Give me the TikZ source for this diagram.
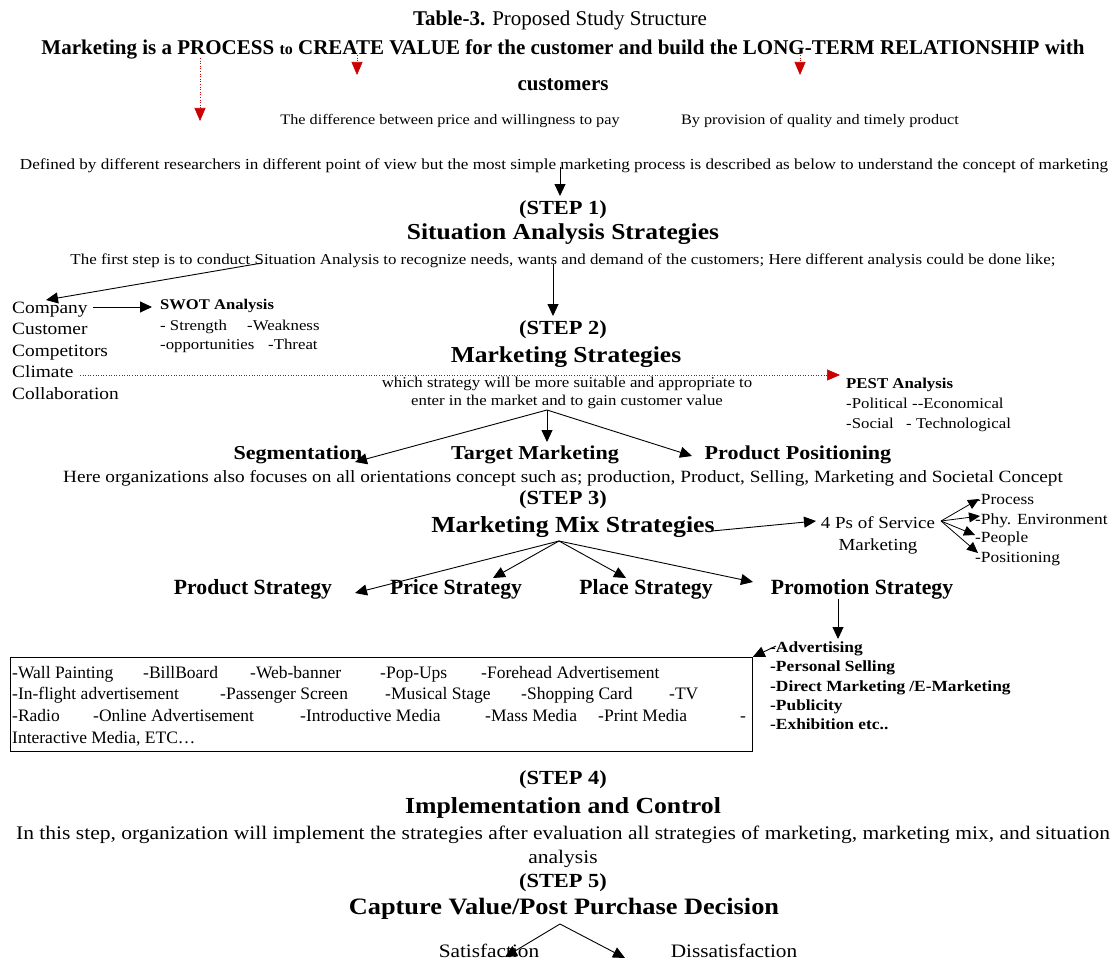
\documentclass[tikz,border=0pt]{standalone}
\usepackage{fontspec}
\setmainfont{Liberation Serif}
\newfontfamily\gar[FakeStretch=1.12]{Liberation Serif}
\usetikzlibrary{arrows.meta}
\begin{document}
\begin{tikzpicture}[x=1pt,y=-1pt,
  every node/.style={inner sep=0pt, text height=0.84em, text depth=0.10em},
  t/.style={font=\fontsize{#1}{#1}\selectfont, yshift=-3.5pt},
  tb/.style={font=\bfseries\fontsize{#1}{#1}\selectfont, yshift=-3.5pt},
  g/.style={font=\gar\fontsize{#1}{#1}\selectfont, yshift=-3.5pt},
  gb/.style={font=\gar\bfseries\fontsize{#1}{#1}\selectfont, yshift=-3.5pt},
  arr/.style={draw=black, line width=0.9pt, -{Triangle[width=11pt,length=12pt]}},
  sarr/.style={draw=black, line width=0.8pt, -{Triangle[width=10pt,length=11pt]}},
  rarr/.style={draw=red!80!black, dotted, line width=0.6pt, -{Triangle[width=11pt,length=13pt,fill=red!80!black]}},
  boxtxt/.style={t=17.5, anchor=west}
]
\useasboundingbox (0,0) rectangle (1115,960);
% header
\node[t=21] (title) at (560,18) {\textbf{Table-3.} Proposed Study Structure};
\node[tb=21] (mk) at (563,47) {Marketing is a PROCESS {\fontsize{16}{16}\selectfont to} CREATE VALUE for the customer and build the LONG-TERM RELATIONSHIP with};
\node[tb=21] (cust) at (563,83) {customers};
\coordinate (r1s) at (200,58); \coordinate (r1e) at (200,121);
\coordinate (r2s) at (357,55); \coordinate (r2e) at (357,75);
\coordinate (r3s) at (800,55); \coordinate (r3e) at (800,75);
\draw[rarr] (r1s) -- (r1e);
\draw[rarr] (r2s) -- (r2e);
\draw[rarr] (r3s) -- (r3e);
\node[g=14.5] (diff) at (450,117) {The difference between price and willingness to pay};
\node[g=14.5] (prov) at (820,117) {By provision of quality and timely product};
\node[g=15.3] (def) at (564,162) {Defined by different researchers in different point of view but the most simple marketing process is described as below to understand the concept of marketing};
% step 1
\node[gb=20] (s1) at (563,207) {(STEP 1)};
\node[gb=22.8] (sas) at (563,232) {Situation Analysis Strategies};
\node[g=15.1] (first) at (563,257) {The first step is to conduct Situation Analysis to recognize needs, wants and demand of the customers; Here different analysis could be done like;};
\coordinate (d1) at (560,167); \coordinate (d1e) at (560,196);
\draw[arr] (d1) -- (d1e);
% left list
\node[g=17.3, anchor=west] (comp) at (12,306) {Company};
\node[g=17.3, anchor=west] (custl) at (12,327) {Customer};
\node[g=17.3, anchor=west] (compt) at (12,349) {Competitors};
\node[g=17.3, anchor=west] (clim) at (12,370) {Climate};
\node[g=17.3, anchor=west] (coll) at (12,392) {Collaboration};
\coordinate (fa) at (262,263);
\coordinate (ct) at (46,300);
\draw[arr] (fa) -- (ct);
\node[gb=14.8, anchor=west] (swot) at (160,302) {SWOT Analysis};
\node[g=15, anchor=west] (sw1a) at (160,323) {- Strength};
\node[g=15, anchor=west] (sw1b) at (247,323) {-Weakness};
\node[g=15, anchor=west] (sw2a) at (160,342) {-opportunities};
\node[g=15, anchor=west] (sw2b) at (268,342) {-Threat};
\coordinate (cs) at (93,307); \coordinate (ce) at (152,307);
\draw[arr] (cs) -- (ce);
% step 2
\node[gb=20] (s2) at (563,327) {(STEP 2)};
\node[gb=22.8] (ms) at (566,355) {Marketing Strategies};
\coordinate (d2) at (553,264); \coordinate (d2e) at (553,316);
\draw[arr] (d2) -- (d2e);
\node[g=15] (which) at (567,380) {which strategy will be more suitable and appropriate to};
\node[g=15] (enter) at (567,398) {enter in the market and to gain customer value};
\coordinate (cl) at (80,375); \coordinate (pe) at (840,375);
\draw[rarr] (cl) -- (pe);
\node[gb=15, anchor=west] (pest) at (846,381) {PEST Analysis};
\node[g=15, anchor=west] (pest1a) at (846,401) {-Political};
\node[g=15, anchor=west] (pest1b) at (912,401) {--Economical};
\node[g=15, anchor=west] (pest2a) at (846,421) {-Social};
\node[g=15, anchor=west] (pest2b) at (906,421) {- Technological};
\node[gb=19.7] (seg) at (298,452) {Segmentation};
\node[gb=19.7] (tm) at (535,452) {Target Marketing};
\node[gb=19.7] (pp) at (798,452) {Product Positioning};
\coordinate (sp) at (547,410);
\coordinate (segt) at (355,462);
\coordinate (tmt) at (547,442);
\coordinate (ppt) at (692,456);
\draw[arr] (sp) -- (segt);
\draw[arr] (sp) -- (tmt);
\draw[arr] (sp) -- (ppt);
\node[g=17.2] (here) at (563,475) {Here organizations also focuses on all orientations concept such as; production, Product, Selling, Marketing and Societal Concept};
% step 3
\node[gb=20] (s3) at (563,497) {(STEP 3)};
\node[gb=23] (mms) at (573,525) {Marketing Mix Strategies};
\node[g=16.9] (fp1) at (878,521) {4 Ps of Service};
\node[g=16.9] (fp2) at (878,543) {Marketing};
\coordinate (ms1) at (712,531); \coordinate (ms2) at (816,521);
\draw[arr] (ms1) -- (ms2);
\node[g=15.5, anchor=west] (proc) at (975,497) {-Process};
\node[g=15.5, anchor=west] (phy) at (975,517) {-Phy. Environment};
\node[g=15.5, anchor=west] (peo) at (975,535) {-People};
\node[g=15.5, anchor=west] (pos) at (975,555) {-Positioning};
\coordinate (fps) at (941,521);
\coordinate (t1) at (979,499);
\coordinate (t2) at (980,516);
\coordinate (t3) at (975,535);
\coordinate (t4) at (978,553);
\draw[sarr] (fps) -- (t1);
\draw[sarr] (fps) -- (t2);
\draw[sarr] (fps) -- (t3);
\draw[sarr] (fps) -- (t4);
\node[tb=21.7] (prod) at (253,587) {Product Strategy};
\node[tb=21.7] (price) at (456,587) {Price Strategy};
\node[tb=21.7] (place) at (646,587) {Place Strategy};
\node[tb=21.7] (promo) at (862,587) {Promotion Strategy};
\coordinate (mx) at (559,541);
\coordinate (m1) at (355,593);
\coordinate (m2) at (493,578);
\coordinate (m3) at (626,578);
\coordinate (m4) at (753,582);
\draw[arr] (mx) -- (m1);
\draw[arr] (mx) -- (m2);
\draw[arr] (mx) -- (m3);
\draw[arr] (mx) -- (m4);
\coordinate (pr1) at (838,599); \coordinate (pr2) at (838,639);
\draw[arr] (pr1) -- (pr2);
\node[gb=15.5, anchor=west] (adv) at (770,645) {-Advertising};
\node[gb=15.5, anchor=west] (ps) at (770,664) {-Personal Selling};
\node[gb=15.5, anchor=west] (dm) at (770,684) {-Direct Marketing\hspace{4pt}/E-Marketing};
\node[gb=15.5, anchor=west] (pub) at (770,703) {-Publicity};
\node[gb=15.5, anchor=west] (exh) at (770,722) {-Exhibition etc..};
% box
\node[draw, line width=0.8pt, anchor=north west, minimum width=742pt, minimum height=94pt, text height=0pt, text depth=0pt] (box) at (10,657) {};
\coordinate (av) at (776,646);
\draw[arr] (av) -- (box.north east);
\node[boxtxt] (b11) at (12,671) {-Wall Painting};
\node[boxtxt] (b12) at (143,671) {-BillBoard};
\node[boxtxt] (b13) at (250,671) {-Web-banner};
\node[boxtxt] (b14) at (380,671) {-Pop-Ups};
\node[boxtxt] (b15) at (481,671) {-Forehead Advertisement};
\node[boxtxt] (b21) at (12,692) {-In-flight advertisement};
\node[boxtxt] (b22) at (220,692) {-Passenger Screen};
\node[boxtxt] (b23) at (385,692) {-Musical Stage};
\node[boxtxt] (b24) at (521,692) {-Shopping Card};
\node[boxtxt] (b25) at (669,692) {-TV};
\node[boxtxt] (b31) at (12,714) {-Radio};
\node[boxtxt] (b32) at (93,714) {-Online Advertisement};
\node[boxtxt] (b33) at (300,714) {-Introductive Media};
\node[boxtxt] (b34) at (485,714) {-Mass Media};
\node[boxtxt] (b35) at (598,714) {-Print Media};
\node[boxtxt] (b36) at (740,714) {-};
\node[boxtxt] (b41) at (12,736) {Interactive Media, ETC\dots};
% step 4
\node[gb=20] (s4) at (563,777) {(STEP 4)};
\node[gb=23] (ic) at (563,806) {Implementation and Control};
\node[g=19.2] (inthis) at (563,832) {In this step, organization will implement the strategies after evaluation all strategies of marketing, marketing mix, and situation};
\node[g=19.2] (anal) at (563,856) {analysis};
% step 5
\node[gb=20] (s5) at (563,880) {(STEP 5)};
\node[gb=23.5] (cap) at (564,907) {Capture Value/Post Purchase Decision};
\node[g=19] (sat) at (489,950) {Satisfaction};
\node[g=19] (dis) at (734,950) {Dissatisfaction};
\coordinate (cv) at (560,924);
\coordinate (sv) at (505,957);
\coordinate (dv) at (625,958);
\draw[arr] (cv) -- (sv);
\draw[arr] (cv) -- (dv);
\end{tikzpicture}
\end{document}
